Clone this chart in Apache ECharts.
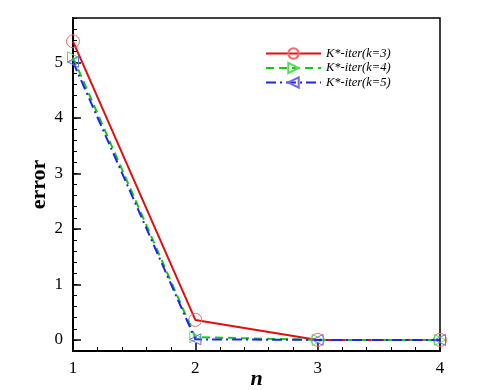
<!DOCTYPE html>
<html>
<head>
<meta charset="utf-8">
<script src="https://cdn.jsdelivr.net/npm/echarts@6/dist/echarts.min.js"></script>
<style>
  html, body { margin: 0; padding: 0; background: #fff; }
  #chart { width: 484px; height: 390px; }
</style>
</head>
<body>
<div id="chart"></div>
<script>
// iteration number n
var iters = [1, 2, 3, 4];
// error for each k
var errK3 = [5.38, 0.36, 0.0, 0.0];
var errK4 = [5.09, 0.05, 0.0, 0.0];
var errK5 = [5.01, 0.01, 0.0, 0.0];
var seriesNames = ['K*-iter(k=3)', 'K*-iter(k=4)', 'K*-iter(k=5)'];
var yMajor = [0, 1, 2, 3, 4, 5];

var serif = '"Liberation Serif", "Times New Roman", serif';

function pairs(ys) {
  return iters.map(function (x, i) { return [x, ys[i]]; });
}

var myChart = echarts.init(document.getElementById('chart'));

var option = {
  animation: false,
  grid: {
    left: 73, right: 44, top: 18, bottom: 39,
    outerBoundsMode: 'none',
    containLabel: false,
    show: true,
    borderColor: '#000',
    borderWidth: 1.5
  },
  legend: {
    orient: 'vertical',
    left: 260,
    top: 42,
    itemWidth: 55,
    itemHeight: 13,
    itemGap: 1.5,
    textStyle: {
      fontFamily: serif,
      fontStyle: 'italic',
      fontSize: 12.5,
      color: '#000'
    },
    data: seriesNames
  },
  xAxis: {
    type: 'value',
    min: 1, max: 4, interval: 1,
    name: 'n',
    nameLocation: 'middle',
    nameGap: 17,
    nameMoveOverlap: false,
    nameTextStyle: { fontFamily: serif, fontStyle: 'italic', fontWeight: 'bold', fontSize: 22, color: '#000' },
    axisLine: { onZero: false, lineStyle: { color: '#000', width: 2 } },
    axisTick: { inside: true, length: 8, lineStyle: { color: '#000', width: 1.5 } },
    minorTick: { show: true, splitNumber: 5, length: 4, lineStyle: { color: '#000', width: 1 } },
    axisLabel: { margin: 9, fontFamily: serif, fontSize: 17, color: '#000' },
    splitLine: { show: false }
  },
  yAxis: [{
    type: 'value',
    min: -0.2, max: 5.8, interval: 0.2,
    name: 'error',
    nameLocation: 'middle',
    nameGap: 23,
    nameMoveOverlap: false,
    nameTextStyle: { fontFamily: serif, fontWeight: 'bold', fontSize: 22, color: '#000' },
    axisLine: { onZero: false, lineStyle: { color: '#000', width: 2 } },
    axisTick: { inside: true, length: 4, lineStyle: { color: '#000', width: 1 } },
    axisLabel: { show: false },
    splitLine: { show: false }
  }, {
    type: 'value',
    min: -0.2, max: 5.8,
    position: 'left',
    axisLine: { show: false },
    axisTick: { inside: true, length: 8, customValues: yMajor, lineStyle: { color: '#000', width: 1.5 } },
    axisLabel: { margin: 10, customValues: yMajor, fontFamily: serif, fontSize: 17, color: '#000' },
    splitLine: { show: false }
  }],
  series: [{
    name: seriesNames[0],
    type: 'line',
    data: pairs(errK3),
    symbol: 'circle',
    symbolSize: 13,
    lineStyle: { color: '#dd1111', width: 2 },
    itemStyle: { color: 'rgba(0,0,0,0)', borderColor: '#f06a6a', borderWidth: 1 },
    z: 3
  }, {
    name: seriesNames[1],
    type: 'line',
    data: pairs(errK4),
    symbol: 'triangle',
    symbolRotate: -90,
    symbolSize: 11,
    lineStyle: { color: '#11cc11', width: 2, type: [8, 5] },
    itemStyle: { color: 'rgba(0,0,0,0)', borderColor: '#55dd55', borderWidth: 1 },
    z: 4
  }, {
    name: seriesNames[2],
    type: 'line',
    data: pairs(errK5),
    symbol: 'triangle',
    symbolRotate: 90,
    symbolSize: 11,
    lineStyle: { color: '#2222ee', width: 2, type: [10, 4, 2, 4] },
    itemStyle: { color: 'rgba(0,0,0,0)', borderColor: '#6a6af0', borderWidth: 1 },
    z: 5
  }]
};

myChart.setOption(option);
</script>
</body>
</html>
